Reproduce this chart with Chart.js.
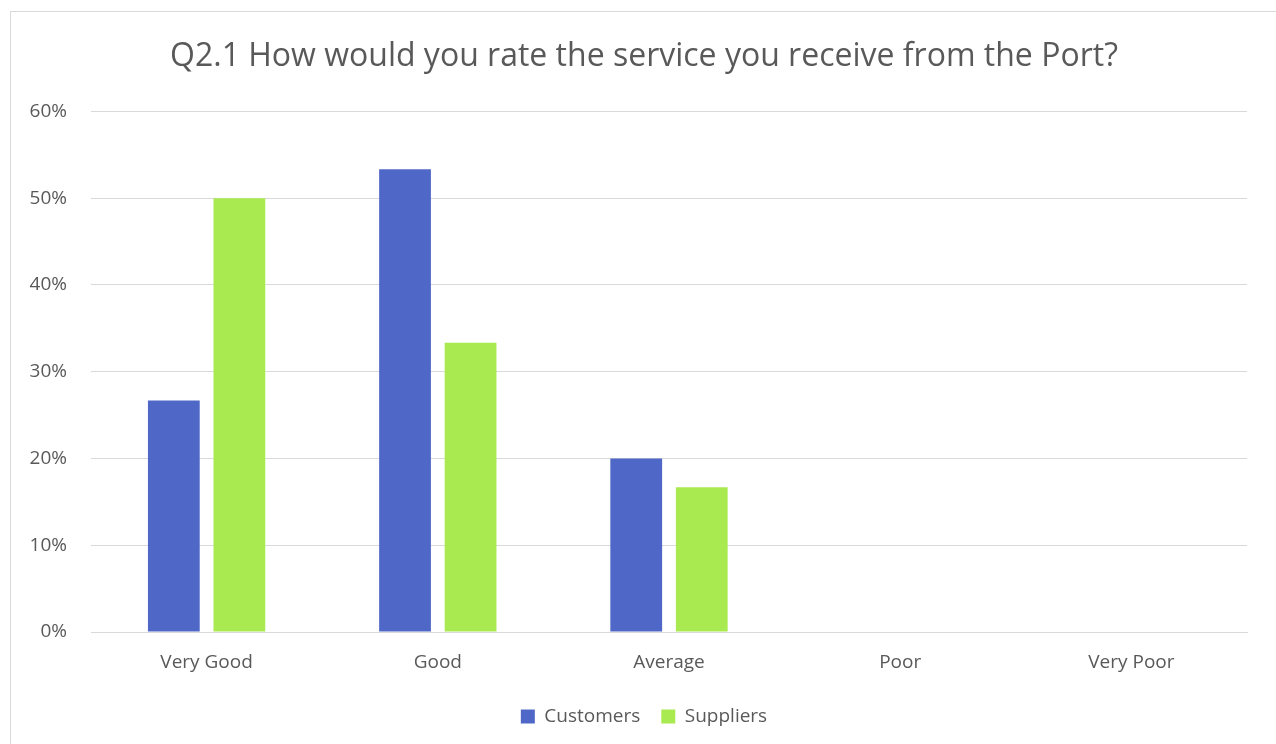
<!DOCTYPE html>
<html>
<head>
<meta charset="utf-8">
<script src="https://cdn.jsdelivr.net/npm/chart.js@4/dist/chart.umd.min.js"></script>
<style>
  body { margin: 0; background: #fff; }
  #frame {
    position: absolute;
    left: 10px;
    top: 11px;
    width: 1280px;
    height: 750px;
    border: 1px solid #d9d9d9;
  }
  #wrap { position: absolute; left: 0; top: 0; width: 1276px; height: 744px; }
</style>
</head>
<body>
<div id="frame"></div>
<div id="wrap"><canvas id="chart" width="1276" height="744"></canvas></div>
<script>
const categories = ["Very Good", "Good", "Average", "Poor", "Very Poor"];
const customers = [26.67, 53.33, 20, 0, 0];
const suppliers = [50, 33.33, 16.67, 0, 0];
const yTicks = [0, 10, 20, 30, 40, 50, 60];

const textColor = "#595959";
const fontFamily = "'Open Sans', 'Noto Sans', sans-serif";

const ctx = document.getElementById("chart");
new Chart(ctx, {
  type: "bar",
  data: {
    labels: categories,
    datasets: [
      {
        label: "Customers",
        data: customers,
        backgroundColor: "#4f68c8",
        categoryPercentage: 0.567,
        barPercentage: 0.79,
      },
      {
        label: "Suppliers",
        data: suppliers,
        backgroundColor: "#a9ea50",
        categoryPercentage: 0.567,
        barPercentage: 0.79,
      },
    ],
  },
  options: {
    responsive: false,
    animation: false,
    layout: {
      padding: { left: 12, right: 0, top: 38, bottom: 8 },
    },
    plugins: {
      title: {
        display: true,
        text: "Q2.1 How would you rate the service you receive from the Port?",
        color: textColor,
        font: { family: fontFamily, size: 32, weight: "normal" },
        padding: { top: 0, bottom: 35 },
      },
      legend: {
        position: "bottom",
        labels: {
          color: textColor,
          font: { family: fontFamily, size: 19 },
          boxWidth: 14,
          boxHeight: 14,
          padding: 21,
        },
      },
      tooltip: { enabled: false },
    },
    scales: {
      x: {
        grid: { display: false, drawTicks: false },
        border: { color: "#d9d9d9", width: 1 },
        ticks: {
          color: textColor,
          font: { family: fontFamily, size: 19 },
          padding: 19,
        },
        afterFit: (scale) => {
          scale.height = 54;
        },
      },
      y: {
        min: 0,
        max: 60,
        afterBuildTicks: (scale) => {
          scale.ticks = yTicks.map((v) => ({ value: v }));
        },
        grid: { color: "#d9d9d9", drawTicks: false },
        border: { display: false },
        ticks: {
          color: textColor,
          font: { family: fontFamily, size: 19 },
          padding: 24,
          callback: (v) => v + "%",
        },
        afterFit: (scale) => {
          scale.width = 79;
        },
      },
      // empty right-hand spacer so the title centres like the original
      spacer: {
        type: "linear",
        position: "right",
        grid: { display: false, drawTicks: false },
        border: { display: false },
        ticks: { display: false },
        afterFit: (scale) => {
          scale.width = 29;
        },
      },
    },
  },
});
</script>
</body>
</html>
